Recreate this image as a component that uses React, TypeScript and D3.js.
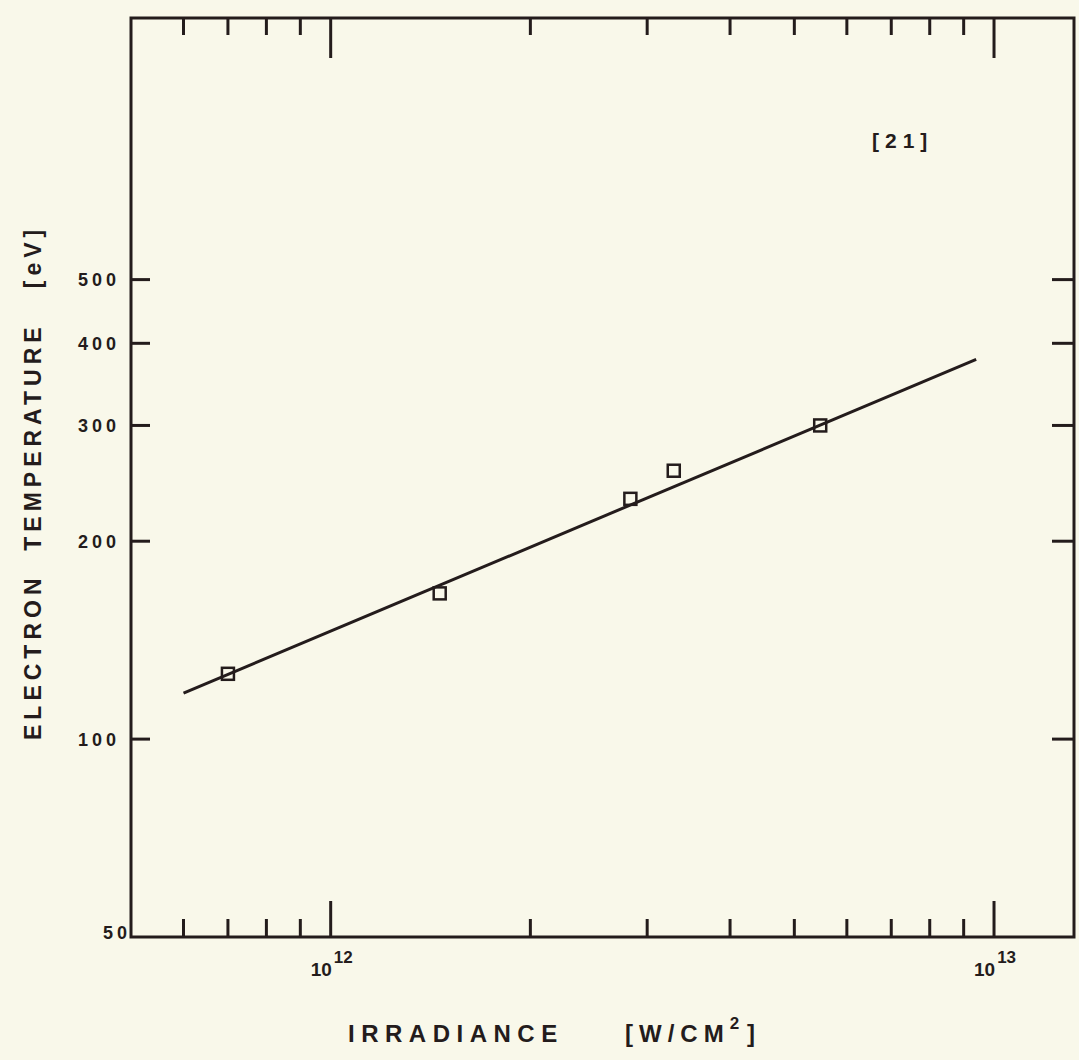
import { useEffect, useRef } from 'react'
import * as d3 from 'd3'

// measured points (irradiance W/cm^2, electron temperature eV)
const irradiance: number[] = [7.0e11, 1.46e12, 2.83e12, 3.29e12, 5.47e12]
const temperature: number[] = [125.7, 166.6, 232, 256, 300]

// fitted line end points
const fitIrradiance: number[] = [6.0e11, 9.4e12]
const fitTemperature: number[] = [117.5, 378]

const yTicks: number[] = [100, 200, 300, 400, 500]
const yTickLabels: string[] = ['100', '200', '300', '400', '500']
const xMajor: number[] = [1e12, 1e13]
const xMajorExp: string[] = ['12', '13']
const xMinor: number[] = [6e11, 7e11, 8e11, 9e11, 2e12, 3e12, 4e12, 5e12, 6e12, 7e12, 8e12, 9e12]

const W = 1079
const H = 1060
const ink = '#241c1c'
const font = '"Liberation Sans", Arial, sans-serif'

export default function App() {
  const svgRef = useRef<SVGSVGElement>(null)

  useEffect(() => {
    const svg = d3.select(svgRef.current)
    svg.selectAll('*').remove()

    const x = d3.scaleLog().domain([5e11, 1.32e13]).range([131, 1074])
    const y = d3.scaleLog().domain([50, 1250]).range([937, 18])
    const [x0, x1] = x.range()
    const [y0, y1] = y.range()

    svg.append('rect').attr('width', W).attr('height', H).attr('fill', '#f9f8ea')

    // frame
    svg.append('rect')
      .attr('x', x0).attr('y', y1)
      .attr('width', x1 - x0).attr('height', y0 - y1)
      .attr('fill', 'none').attr('stroke', ink).attr('stroke-width', 3)

    const ticks = svg.append('g').attr('stroke', ink).attr('stroke-width', 3)
    // left + right ticks
    yTicks.forEach(v => {
      ticks.append('line').attr('x1', x0).attr('x2', x0 + 19).attr('y1', y(v)).attr('y2', y(v))
      ticks.append('line').attr('x1', x1 - 22).attr('x2', x1).attr('y1', y(v)).attr('y2', y(v))
    })
    // top + bottom ticks
    xMinor.forEach(v => {
      ticks.append('line').attr('x1', x(v)).attr('x2', x(v)).attr('y1', y1).attr('y2', y1 + 17)
      ticks.append('line').attr('x1', x(v)).attr('x2', x(v)).attr('y1', y0).attr('y2', y0 - 18)
    })
    xMajor.forEach(v => {
      ticks.append('line').attr('x1', x(v)).attr('x2', x(v)).attr('y1', y1).attr('y2', y1 + 40)
      ticks.append('line').attr('x1', x(v)).attr('x2', x(v)).attr('y1', y0).attr('y2', y0 - 36)
    })

    // y tick labels
    const lab = svg.append('g')
      .attr('font-family', font).attr('font-weight', 'bold')
      .attr('font-size', 18).attr('fill', ink).attr('letter-spacing', 4)
    yTicks.forEach((v, i) => {
      lab.append('text').attr('x', 120).attr('y', y(v)).attr('dy', '0.36em')
        .attr('text-anchor', 'end').text(yTickLabels[i])
    })
    lab.append('text').attr('x', 131).attr('y', y(50)).attr('dy', '0.1em')
      .attr('text-anchor', 'end').text('50')

    // x tick labels 10^n
    xMajor.forEach((v, i) => {
      const t = svg.append('text')
        .attr('x', x(v) - 20).attr('y', 976)
        .attr('font-family', font).attr('font-weight', 'bold').attr('font-size', 19).attr('fill', ink)
      t.append('tspan').text('10')
      t.append('tspan').attr('dx', 2).attr('dy', -13).attr('font-size', 17).text(xMajorExp[i])
    })

    // fitted line
    const line = d3.line<number>()
      .x((_, i) => x(fitIrradiance[i]))
      .y(d => y(d))
    svg.append('path').datum(fitTemperature)
      .attr('d', line).attr('fill', 'none')
      .attr('stroke', ink).attr('stroke-width', 3)

    // squares
    const s = 12
    svg.append('g').selectAll('rect').data(irradiance).enter().append('rect')
      .attr('x', d => x(d) - s / 2)
      .attr('y', (_, i) => y(temperature[i]) - s / 2)
      .attr('width', s).attr('height', s)
      .attr('fill', 'none').attr('stroke', ink).attr('stroke-width', 2.5)

    // reference tag
    svg.append('text').attr('x', 872).attr('y', 148)
      .attr('font-family', font).attr('font-weight', 'bold').attr('font-size', 21)
      .attr('letter-spacing', 6).attr('fill', ink).text('[21]')

    // axis titles
    svg.append('text').attr('x', 348).attr('y', 1042)
      .attr('font-family', font).attr('font-weight', 'bold').attr('font-size', 24)
      .attr('letter-spacing', 6.5).attr('fill', ink).text('IRRADIANCE')
    const xt = svg.append('text').attr('x', 625).attr('y', 1042)
      .attr('font-family', font).attr('font-weight', 'bold').attr('font-size', 24)
      .attr('letter-spacing', 6).attr('fill', ink)
    xt.append('tspan').text('[W/CM')
    xt.append('tspan').attr('dx', 0).attr('dy', -13).attr('font-size', 17).attr('letter-spacing', 2).text('2')
    xt.append('tspan').attr('dx', 6).attr('dy', 13).text(']')

    svg.append('text')
      .attr('transform', 'translate(41,740) rotate(-90)')
      .attr('font-family', font).attr('font-weight', 'bold').attr('font-size', 23)
      .attr('letter-spacing', 5).attr('fill', ink)
      .attr('xml:space', 'preserve')
      .text('ELECTRON  TEMPERATURE   [eV]')
  }, [])

  return (
    <svg ref={svgRef} width={W} height={H}
      style={{ position: 'absolute', left: 0, top: 0, display: 'block' }} />
  )
}
